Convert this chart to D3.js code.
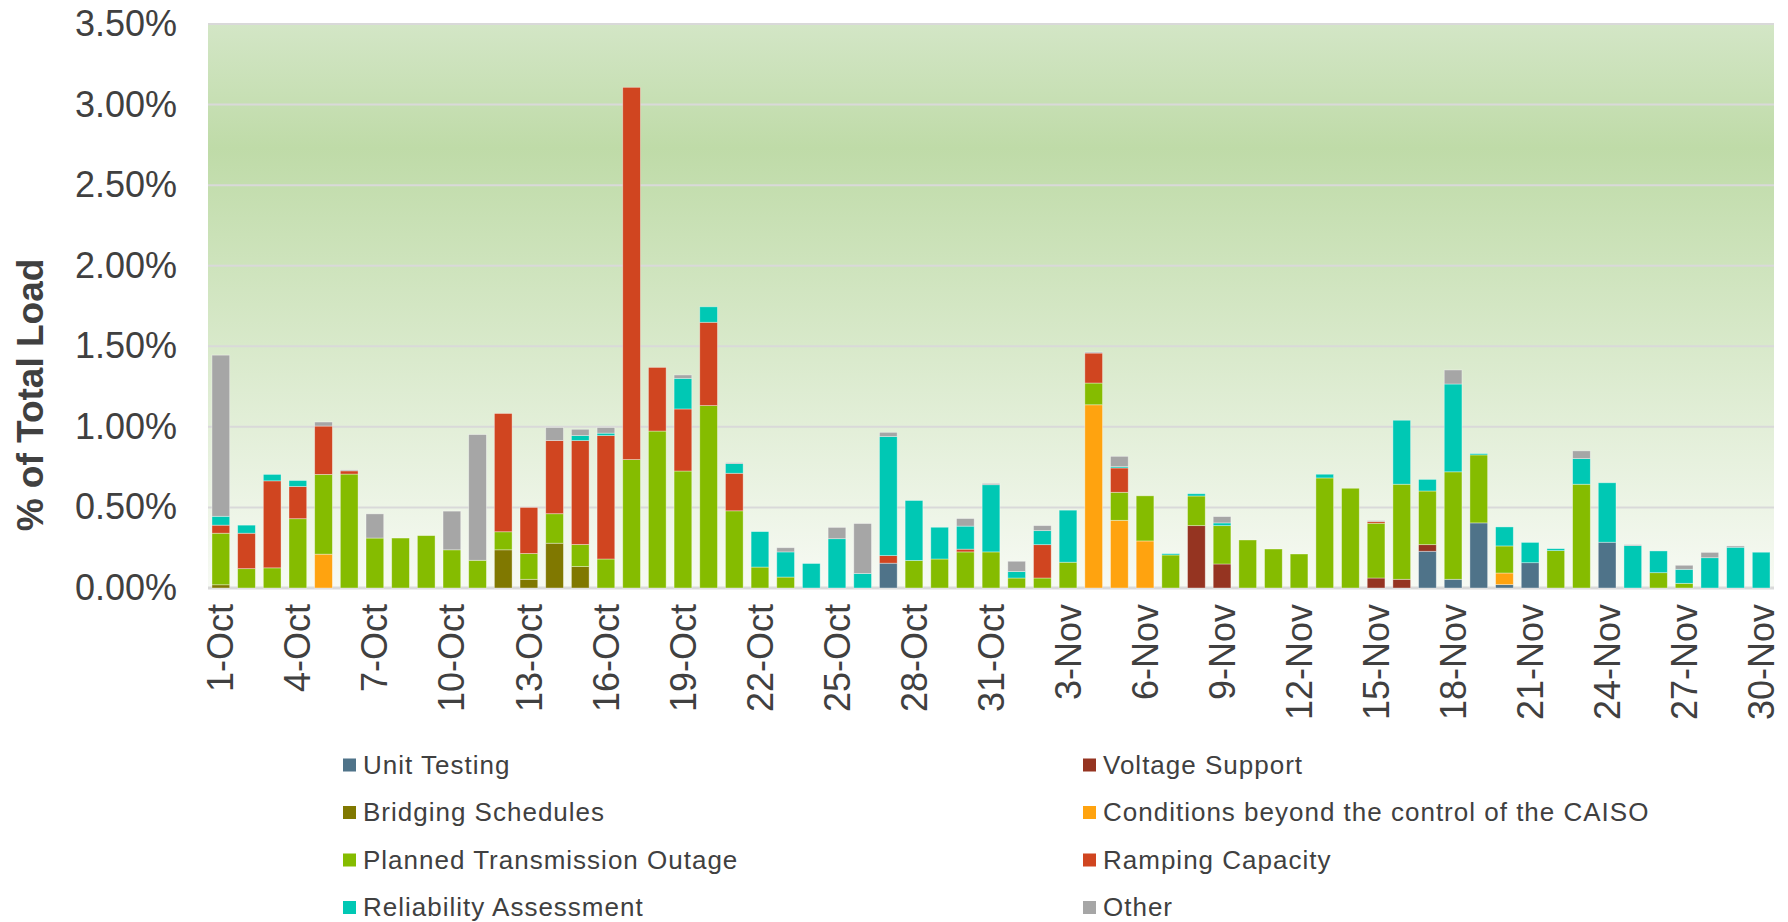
<!doctype html>
<html>

<head>
  <title>Exceptional Dispatch</title>
  <style>
    body { margin: 0; background: #fff; }
    text { font-family: "Liberation Sans", Arial, sans-serif; fill: #404040; }
  </style>
</head>

<body>
  <svg></svg>
  <script type="text/javascript" src="https://cdnjs.cloudflare.com/ajax/libs/d3/7.8.5/d3.min.js"></script>
  <script type="text/javascript">
  // days, 1-Oct .. 30-Nov
  var days = d3.range(1, 32).map(function(d) { return d + "-Oct"; })
    .concat(d3.range(1, 31).map(function(d) { return d + "-Nov"; }));

  var seriesNames = ["Unit Testing", "Voltage Support", "Bridging Schedules",
    "Conditions beyond the control of the CAISO", "Planned Transmission Outage",
    "Ramping Capacity", "Reliability Assessment", "Other"];
  var seriesColors = ["#4f7389", "#953421", "#807800", "#ffa30f", "#85bc00", "#d04520", "#00c8b4", "#a6a6a6"];

  var yTicks = [0, 0.5, 1, 1.5, 2, 2.5, 3, 3.5];

  // values in % of total load
  var unitTesting = [0,0,0,0,0,0,0,0,0,0, 0,0,0,0,0,0,0,0,0,0, 0,0,0,0,0,0,.154,0,0,0,
    0,0,0,0,0,0,0,0,0,0, 0,0,0,0,0,0,0,.228,.054,.404, .021,.157,0,0,.284,0,0,0,0,0, 0];
  var voltageSupport = [0,0,0,0,0,0,0,0,0,0, 0,0,0,0,0,0,0,0,0,0, 0,0,0,0,0,0,0,0,0,0,
    0,0,0,0,0,0,0,0,.387,.149, 0,0,0,0,0,.062,.054,.041,0,0, 0,0,0,0,0,0,0,0,0,0, 0];
  var bridging = [.02,0,0,0,0,0,0,0,0,0, 0,.237,.054,.278,.133,0,0,0,0,0, 0,0,0,0,0,0,0,0,0,0,
    0,0,0,0,0,0,0,0,0,0, 0,0,0,0,0,0,0,0,0,0, 0,0,0,0,0,0,0,0,0,0, 0];
  var conditions = [0,0,0,0,.21,0,0,0,0,0, 0,0,0,0,0,0,0,0,0,0, 0,0,0,0,0,0,0,0,0,0,
    0,0,0,0,1.137,.42,.292,0,0,0, 0,0,0,0,0,0,0,0,0,0, .072,0,0,0,0,0,0,0,0,0, 0];
  var planned = [.32,.12,.125,.43,.495,.707,.31,.31,.325,.237, .172,.112,.16,.183,.137,.18,.797,.974,.726,1.132,
    .479,.13,.068,0,0,0,0,.171,.18,.224, .224,.062,.062,.16,.135,.174,.28,.205,.184,.238,
    .298,.242,.211,.683,.619,.34,.59,.333,.667,.422, .168,0,.232,.644,0,0,.095,.029,0,0, 0];
  var ramping = [.05,.22,.54,.2,.3,.02,0,0,0,0, 0,.734,.286,.454,.645,.766,2.31,.395,.385,.517,
    .233,0,0,0,0,0,.047,0,0,.017, 0,0,.207,0,.186,.151,0,0,0,0,
    0,0,0,0,0,.01,0,0,0,0, 0,0,0,0,0,0,0,0,0,0, 0];
  var reliability = [.055,.05,.04,.037,0,0,0,0,0,0, 0,0,0,0,.031,.015,0,0,.19,.096,
    .06,.22,.156,.152,.306,.09,.739,.372,.197,.143, .417,.04,.087,.323,0,.008,0,.008,.014,.017,
    0,0,0,.023,0,0,.397,.072,.545,.008, .118,.126,.012,.159,.369,.263,.135,.087,.188,.253, .222];
  var other = [1.0,0,0,0,.025,.006,.15,0,0,.24, .78,0,0,.081,.039,.035,0,0,.021,0,
    .006,0,.026,0,.07,.31,.026,0,0,.047, .008,.064,.031,0,.006,.064,0,0,0,.039,
    0,0,0,0,0,.006,0,0,.087,0, 0,0,0,.048,0,.006,0,.025,.033,.008, 0];

  var seriesValues = [unitTesting, voltageSupport, bridging, conditions, planned, ramping, reliability, other];

  var width = 1788, height = 922;
  var margin = { top: 24, right: 14, bottom: 334, left: 208 };

  var svg = d3.select("svg")
    .attr("width", width)
    .attr("height", height);

  var rows = days.map(function(d, i) {
    var r = { day: d };
    seriesNames.forEach(function(s, j) { r[s] = seriesValues[j][i]; });
    return r;
  });

  var x = d3.scaleBand()
    .domain(days)
    .range([margin.left, width - margin.right])
    .paddingInner(0.31)
    .paddingOuter(0.155);

  var y = d3.scaleLinear()
    .domain([0, 3.5])
    .range([height - margin.bottom, margin.top]);

  // plot background gradient
  var grad = svg.append("defs").append("linearGradient")
    .attr("id", "bg")
    .attr("x1", 0).attr("y1", 0).attr("x2", 0).attr("y2", 1);
  grad.append("stop").attr("offset", "0%").attr("stop-color", "#d3e6c6");
  grad.append("stop").attr("offset", "22%").attr("stop-color", "#bfdba8");
  grad.append("stop").attr("offset", "100%").attr("stop-color", "#f7faf4");

  svg.append("rect")
    .attr("x", margin.left)
    .attr("y", margin.top)
    .attr("width", width - margin.right - margin.left)
    .attr("height", y(0) - margin.top)
    .attr("fill", "url(#bg)");

  // gridlines
  svg.append("g")
    .attr("class", "grid")
    .selectAll("line")
    .data(yTicks)
    .enter().append("line")
    .attr("x1", margin.left)
    .attr("x2", width - margin.right)
    .attr("y1", function(d) { return y(d); })
    .attr("y2", function(d) { return y(d); })
    .style("stroke", "#d9d9d9")
    .style("stroke-width", function(d) { return d === 0 ? 3 : 2; });

  // stacked bars
  var stack = d3.stack().keys(seriesNames);
  var layers = stack(rows);

  svg.append("g")
    .attr("class", "bars")
    .selectAll("g")
    .data(layers)
    .enter().append("g")
    .attr("fill", function(d, i) { return seriesColors[i]; })
    .selectAll("rect")
    .data(function(d) { return d.filter(function(p) { return p[1] - p[0] > 0; }); })
    .enter().append("rect")
    .attr("x", function(d) { return x(d.data.day); })
    .attr("width", x.bandwidth())
    .attr("y", function(d) { return y(d[1]); })
    .attr("height", function(d) { return y(d[0]) - y(d[1]); })
    .style("stroke", "rgba(255,255,255,0.45)")
    .style("stroke-width", 0.8);

  // y axis
  var yAxis = svg.append("g")
    .attr("transform", "translate(" + margin.left + ",0)")
    .call(d3.axisLeft(y).tickValues(yTicks).tickSize(0).tickPadding(31)
      .tickFormat(function(d) { return d3.format(".2f")(d) + "%"; }));
  yAxis.select(".domain").remove();
  yAxis.selectAll("text")
    .style("font-size", "36px")
    .style("fill", "#404040");

  // x axis
  var xAxis = svg.append("g")
    .attr("transform", "translate(0," + y(0) + ")")
    .call(d3.axisBottom(x).tickValues(days.filter(function(d, i) { return i % 3 === 0; })).tickSize(0));
  xAxis.select(".domain").remove();
  xAxis.selectAll("text")
    .attr("transform", "rotate(-90)")
    .attr("x", -16)
    .attr("y", 0)
    .attr("dy", "0.35em")
    .style("text-anchor", "end")
    .style("font-size", "36px")
    .style("fill", "#404040");

  // y title
  svg.append("text")
    .attr("transform", "translate(43,395) rotate(-90)")
    .style("text-anchor", "middle")
    .style("font-size", "37px")
    .style("font-weight", "bold")
    .style("fill", "#404040")
    .text("% of Total Load");

  // legend, two columns
  var legend = svg.append("g")
    .attr("class", "legend")
    .selectAll("g")
    .data(seriesNames)
    .enter().append("g")
    .attr("transform", function(d, i) {
      return "translate(" + (i % 2 === 0 ? 343 : 1083) + "," + (765 + Math.floor(i / 2) * 47.5) + ")";
    });

  legend.append("rect")
    .attr("x", 0)
    .attr("y", -6.5)
    .attr("width", 13)
    .attr("height", 13)
    .attr("fill", function(d, i) { return seriesColors[i]; });

  legend.append("text")
    .attr("x", 20)
    .attr("y", 0)
    .attr("dy", "0.33em")
    .style("font-size", "26px")
    .style("letter-spacing", "1px")
    .style("fill", "#404040")
    .text(function(d) { return d; });
  </script>
</body>

</html>
